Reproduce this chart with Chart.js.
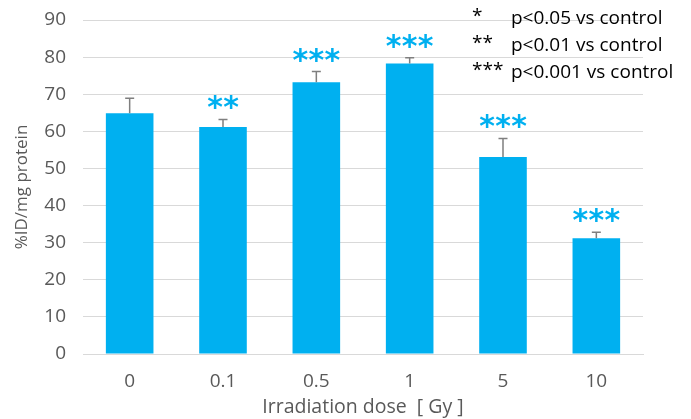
<!DOCTYPE html>
<html>
<head>
<meta charset="utf-8">
<script src="https://cdn.jsdelivr.net/npm/chart.js@4"></script>
<style>
  body { margin: 0; background: #fff; }
  canvas { display: block; }
</style>
</head>
<body>
<canvas id="chart" width="691" height="419"></canvas>
<script>
// values
const doses = ['0', '0.1', '0.5', '1', '5', '10'];
const means = [64.9, 61.2, 73.2, 78.3, 53.1, 31.2];
const errors = [4.0, 2.0, 2.9, 1.5, 5.0, 1.6];
const stars = ['', '**', '***', '***', '***', '***'];
const legendKeys = ['*', '**', '***'];
const legendTexts = ['p<0.05 vs control', 'p<0.01 vs control', 'p<0.001 vs control'];

const blue = '#00B0F0';
const grey = '#595959';
const font = "'Open Sans', sans-serif";

// error bars (upper only) + significance stars
const errorBars = {
    id: 'errorBars',
    afterDatasetsDraw(chart) {
        const ctx = chart.ctx;
        const y = chart.scales.y;
        const meta = chart.getDatasetMeta(0);
        ctx.save();
        meta.data.forEach(function(bar, i) {
            const top = y.getPixelForValue(means[i] + errors[i]);
            ctx.strokeStyle = '#7f7f7f';
            ctx.lineWidth = 1.5;
            ctx.beginPath();
            ctx.moveTo(bar.x, bar.y);
            ctx.lineTo(bar.x, top);
            ctx.moveTo(bar.x - 4.5, top);
            ctx.lineTo(bar.x + 4.5, top);
            ctx.stroke();

            if (!stars[i]) return;
            ctx.fillStyle = blue;
            ctx.font = 'bold 30px DejaVu Sans';
            ctx.textAlign = 'center';
            ctx.textBaseline = 'alphabetic';
            const m = ctx.measureText('*');
            const cy = top - 16.5;
            const base = cy - (m.actualBoundingBoxDescent - m.actualBoundingBoxAscent) / 2;
            const n = stars[i].length;
            for (let k = 0; k < n; k++) {
                ctx.fillText('*', bar.x + (k - (n - 1) / 2) * 16, base);
            }
        });
        ctx.restore();
    }
};

// the p-value key in the top right corner
const keyText = {
    id: 'keyText',
    afterDraw(chart) {
        const ctx = chart.ctx;
        ctx.save();
        ctx.fillStyle = '#000';
        ctx.textBaseline = 'middle';
        ctx.textAlign = 'left';
        for (let i = 0; i < legendTexts.length; i++) {
            const yy = 19 + i * 27;
            ctx.font = '19px ' + font;
            ctx.fillText(legendKeys[i], 472, yy - 2);
            ctx.fillText(legendTexts[i], 511, yy);
        }
        ctx.restore();
    }
};

new Chart(document.getElementById('chart').getContext('2d'), {
    type: 'bar',
    data: {
        labels: doses,
        datasets: [{
            data: means,
            backgroundColor: blue,
            borderWidth: 0,
            categoryPercentage: 1.0,
            barPercentage: 0.51
        }]
    },
    options: {
        responsive: false,
        animation: false,
        layout: { padding: { left: 0, right: 48, top: 20, bottom: 0 } },
        plugins: {
            legend: { display: false },
            tooltip: { enabled: false }
        },
        scales: {
            x: {
                grid: { display: false, drawTicks: false },
                border: { color: '#d9d9d9', width: 1 },
                ticks: { color: grey, font: { family: font, size: 19 }, padding: 16 },
                title: {
                    display: true,
                    text: 'Irradiation dose  [ Gy ]',
                    color: grey,
                    font: { family: font, size: 19.5 },
                    padding: { top: 0, bottom: 0 }
                },
                afterFit(scale) { scale.height = 65; }
            },
            y: {
                min: 0,
                max: 90,
                grid: { color: '#d9d9d9', drawTicks: false },
                border: { display: false },
                ticks: { stepSize: 10, color: grey, font: { family: font, size: 19 }, padding: 17 },
                title: {
                    display: true,
                    text: '%ID/mg protein',
                    color: grey,
                    font: { family: font, size: 17 },
                    padding: { top: 12, bottom: 0 }
                },
                afterFit(scale) {
                    scale.width = 83;
                    scale.paddingTop = 0;
                    scale.paddingBottom = 0;
                }
            }
        }
    },
    plugins: [errorBars, keyText]
});
</script>
</body>
</html>
